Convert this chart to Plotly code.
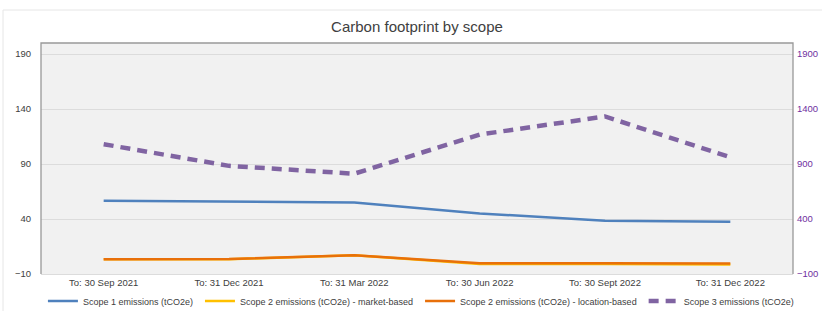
import plotly.graph_objects as go

categories = ["To: 30 Sep 2021", "To: 31 Dec 2021", "To: 31 Mar 2022",
              "To: 30 Jun 2022", "To: 30 Sept 2022", "To: 31 Dec 2022"]
scope1 = [56.5, 55.5, 55.0, 45.0, 38.5, 37.5]
scope2_market = [3.3, 3.5, 7.0, -1.0, -1.0, -1.3]
scope2_location = [3.4, 3.6, 7.0, -0.2, -0.3, -0.4]
scope3 = [1080, 883, 812, 1168, 1332, 962]

left_ticks = [-10, 40, 90, 140, 190]
right_ticks = [-100, 400, 900, 1400, 1900]

FONT = "Liberation Sans, Arial, sans-serif"

fig = go.Figure()
fig.add_trace(go.Scatter(x=categories, y=scope1, mode="lines",
                         name="Scope 1 emissions (tCO2e)",
                         line=dict(color="#4f81bd", width=2.5)))
fig.add_trace(go.Scatter(x=categories, y=scope2_market, mode="lines",
                         name="Scope 2 emissions (tCO2e) - market-based",
                         line=dict(color="#ffc000", width=2.5)))
fig.add_trace(go.Scatter(x=categories, y=scope2_location, mode="lines",
                         name="Scope 2 emissions (tCO2e) - location-based",
                         line=dict(color="#e8700a", width=2.5)))
fig.add_trace(go.Scatter(x=categories, y=scope3, mode="lines",
                         name="Scope 3 emissions (tCO2e)", yaxis="y2",
                         line=dict(color="#8064a2", width=4.5, dash="10px,7px")))

fig.update_layout(
    width=822, height=311,
    margin=dict(l=41, r=29, t=43, b=37, autoexpand=False),
    paper_bgcolor="white",
    plot_bgcolor="#f1f1f1",
    font=dict(family=FONT, size=11, color="#404040"),
    title=dict(text="Carbon footprint by scope", x=(41 + 793) / 2 / 822, xanchor="center",
               y=1 - 27 / 311, yanchor="middle",
               font=dict(family=FONT, size=15, color="#404040")),
    showlegend=True,
    legend=dict(orientation="h", x=-0.0001, xanchor="left", y=-27 / 231, yanchor="middle",
                font=dict(family=FONT, size=9, color="#404040"),
                bgcolor="rgba(0,0,0,0)", itemwidth=30, tracegroupgap=0,
                indentation=2),
    xaxis=dict(range=[-0.5, 5.5], showgrid=False, ticks="", zeroline=False,
               showline=True, linecolor="#dcdcdc", linewidth=1,
               tickfont=dict(family=FONT, size=9.5, color="#404040")),
    yaxis=dict(range=[-10, 200], tickvals=left_ticks, showgrid=True, gridcolor="#dcdcdc",
               gridwidth=1, zeroline=False, ticks="", showline=False,
               tickfont=dict(family=FONT, size=9.5, color="#404040"), ticklabelstandoff=9),
    yaxis2=dict(range=[-100, 2000], tickvals=right_ticks, overlaying="y", side="right",
                showgrid=False, zeroline=False, ticks="", showline=False,
                tickfont=dict(family=FONT, size=9.5, color="#7030a0"), ticklabelstandoff=3),
    shapes=[
        dict(type="path", xref="paper", yref="paper",
             path="M 0 0 L 0 1 L 1 1 L 1 0", line=dict(color="#999999", width=1.3)),
        dict(type="line", xref="paper", yref="paper", x0=-38/752, x1=-38/752,
             y0=-37/231, y1=(311-10-37)/231, line=dict(color="#e6e6e6", width=1)),
        dict(type="line", xref="paper", yref="paper", x0=-38/752, x1=(822-41)/752,
             y0=(311-10-37)/231, y1=(311-10-37)/231, line=dict(color="#e6e6e6", width=1)),
    ],
)

fig.write_html("out.html", config={"displayModeBar": False},
               post_script="document.body.style.margin='0';document.body.style.overflow='hidden';")
